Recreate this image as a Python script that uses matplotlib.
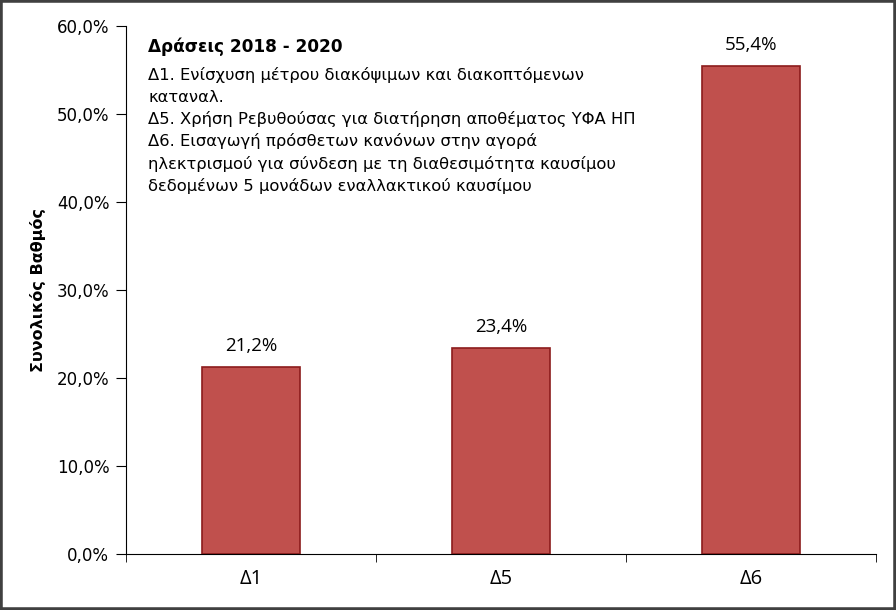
import matplotlib
matplotlib.use("Agg")
import matplotlib.pyplot as plt
from matplotlib.patches import Rectangle

categories = ["Δ1", "Δ5", "Δ6"]
values = [21.2, 23.4, 55.4]
yticks = [0, 10, 20, 30, 40, 50, 60]

title_text = "Δράσεις 2018 - 2020"
desc_lines = [
    "Δ1. Ενίσχυση μέτρου διακόψιμων και διακοπτόμενων",
    "καταναλ.",
    "Δ5. Χρήση Ρεβυθούσας για διατήρηση αποθέματος ΥΦΑ ΗΠ",
    "Δ6. Εισαγωγή πρόσθετων κανόνων στην αγορά",
    "ηλεκτρισμού για σύνδεση με τη διαθεσιμότητα καυσίμου",
    "δεδομένων 5 μονάδων εναλλακτικού καυσίμου",
]

fig = plt.figure(figsize=(8.96, 6.10), dpi=100)
ax = fig.add_axes([126/896, 56/610, 750/896, 528/610])

x = range(len(categories))
bars = ax.bar(x, values, width=0.39, color="#C0504D", edgecolor="#8C1C1C", linewidth=1.2)
for xi, v in zip(x, values):
    ax.text(xi, v + 1.4, f"{v:.1f}%".replace(".", ","), ha="center", va="bottom",
            fontsize=13.5, family="Open Sans", color="black")

ax.set_xlim(-0.5, 2.5)
ax.set_ylim(0, 60)
ax.set_yticks(yticks)
ax.set_yticklabels([f"{t:.1f}%".replace(".", ",") for t in yticks], fontsize=12, family="DejaVu Sans")
ax.set_xticks(list(x))
ax.set_xticklabels(categories, fontsize=14.5, family="Open Sans")
ax.set_xticks([-0.5, 0.5, 1.5, 2.5], minor=True)
ax.tick_params(axis="x", which="major", length=0, pad=11)
ax.tick_params(axis="x", which="minor", length=6, direction="out")
ax.tick_params(axis="y", length=7, direction="out", pad=5)
for s in ["top", "right"]:
    ax.spines[s].set_visible(False)
ax.set_ylabel("Συνολικός Βαθμός", fontsize=11.5, fontweight="bold", labelpad=8)

ax.text(148/896, 1 - 47/610, title_text, transform=fig.transFigure, fontsize=12.2,
        fontweight="bold", va="center", ha="left")
line_y = [75, 97, 119, 141, 164, 186]
for ly, line in zip(line_y, desc_lines):
    ax.text(148/896, 1 - ly/610, line, transform=fig.transFigure, fontsize=11.8,
            va="center", ha="left")

fig.patches.append(Rectangle((0, 0), 1, 1, transform=fig.transFigure, fill=False,
                             edgecolor="#404040", linewidth=4))
fig.savefig("out.png", dpi=100)
